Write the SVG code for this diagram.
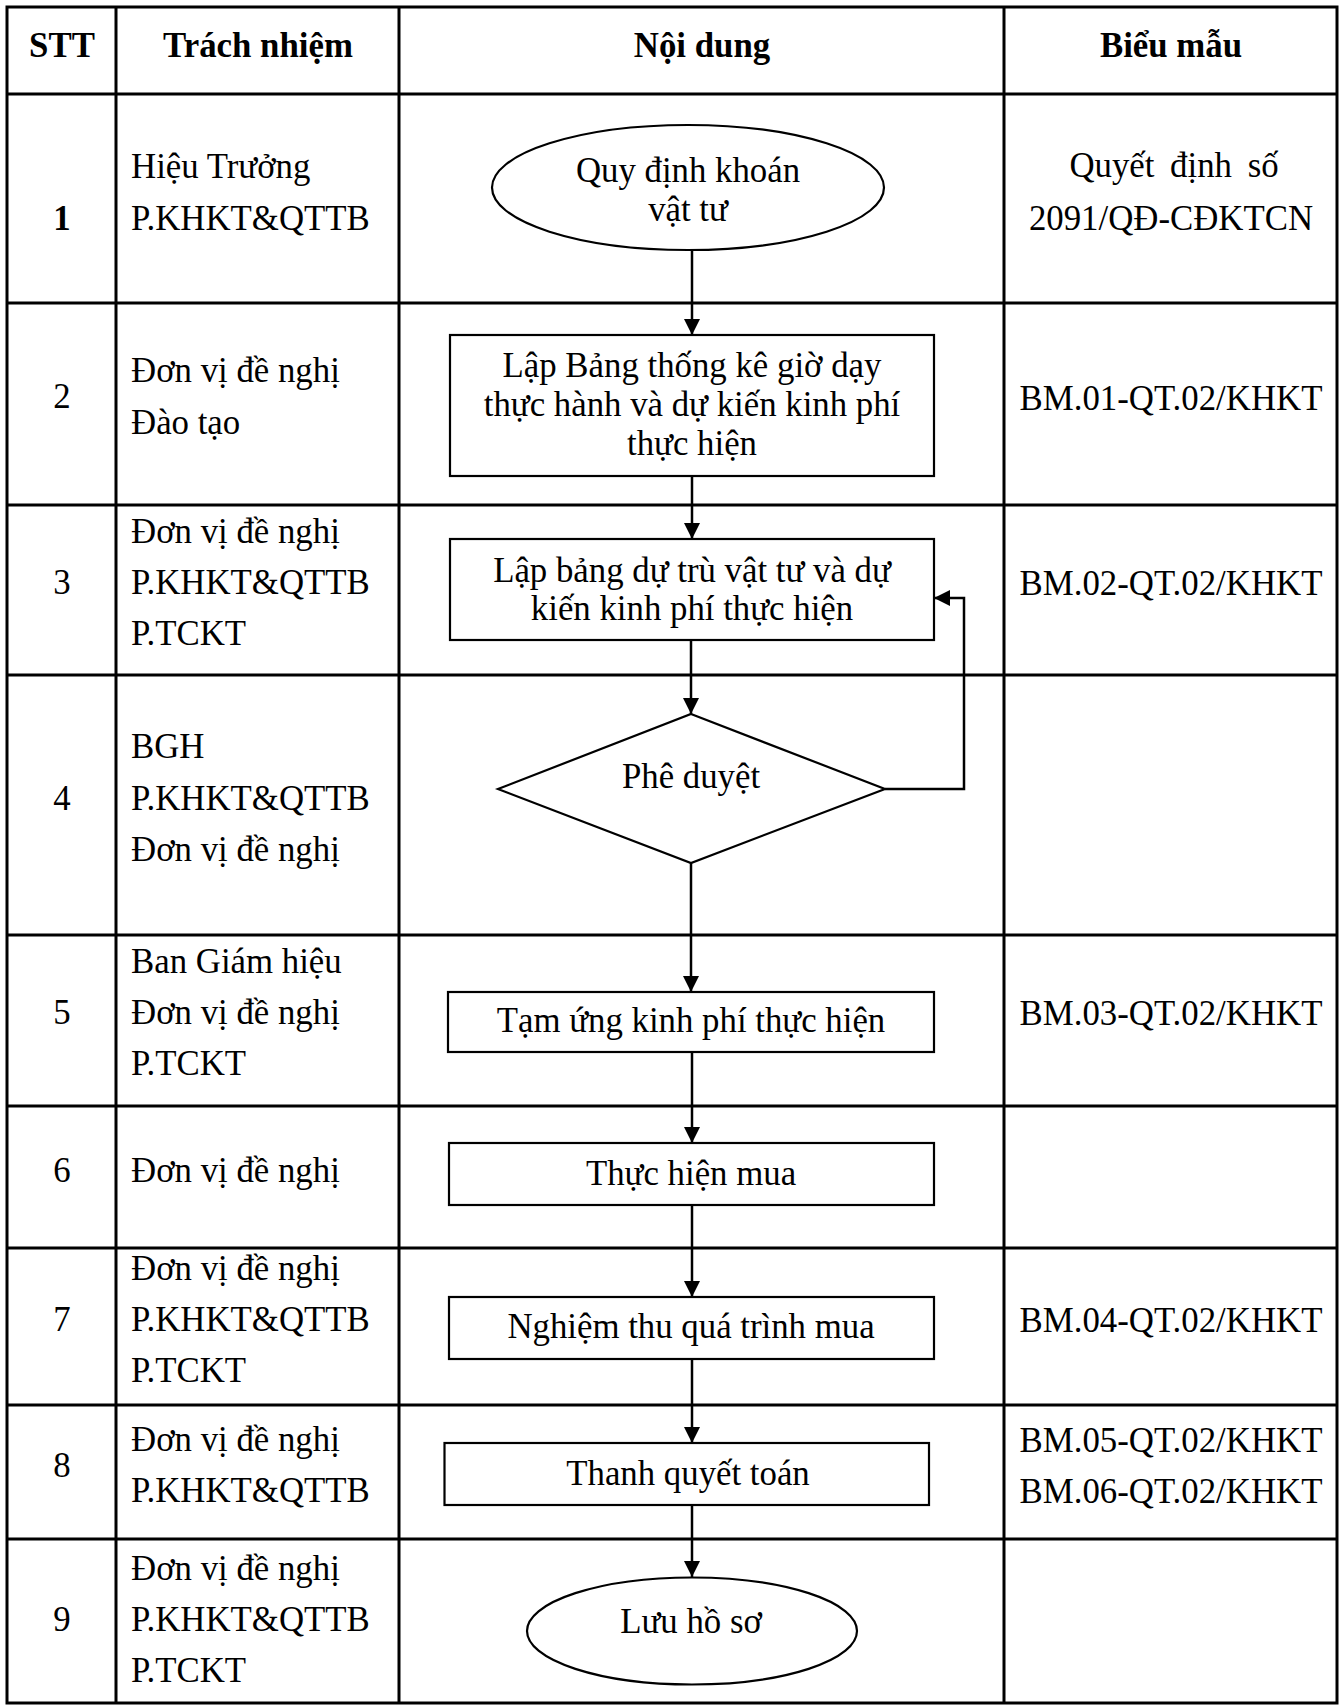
<svg xmlns="http://www.w3.org/2000/svg" width="1342" height="1707" viewBox="0 0 1342 1707">
<style>
text{font-family:"Liberation Serif","Times New Roman",serif;font-size:34.8px;fill:#000}
.b{font-weight:bold}
.c{text-anchor:middle}
.grid{stroke:#000;stroke-width:3;fill:none}
.shape{stroke:#000;stroke-width:2.2;fill:#fff}
.conn{stroke:#000;stroke-width:2.5;fill:none;marker-end:url(#arr)}
</style>
<defs>
<marker id="arr" markerUnits="userSpaceOnUse" markerWidth="17" markerHeight="17" refX="16" refY="8" orient="auto">
<path d="M0,0 L16,8 L0,16 z" fill="#000"/>
</marker>
</defs>
<rect width="1342" height="1707" fill="#fff"/>
<g id="table" class="grid">
<rect x="7" y="7" width="1330" height="1696"/>
<path d="M116,7V1703M399,7V1703M1004,7V1703"/>
<path d="M7,94H1337M7,303H1337M7,505H1337M7,675H1337M7,935H1337M7,1106H1337M7,1248H1337M7,1405H1337M7,1539H1337"/>
</g>
<g id="header">
<text class="b c" x="62" y="57">STT</text>
<text class="b c" x="258" y="57">Trách nhiệm</text>
<text class="b c" x="702" y="57">Nội dung</text>
<text class="b c" x="1171" y="57">Biểu mẫu</text>
</g>
<g id="col-stt">
<text class="b c" x="62" y="230">1</text>
<text class="c" x="62" y="408">2</text>
<text class="c" x="62" y="594">3</text>
<text class="c" x="62" y="810">4</text>
<text class="c" x="62" y="1024">5</text>
<text class="c" x="62" y="1182">6</text>
<text class="c" x="62" y="1331">7</text>
<text class="c" x="62" y="1477">8</text>
<text class="c" x="62" y="1631">9</text>
</g>
<g id="col-resp">
<text x="131" y="178">Hiệu Trưởng</text>
<text x="131" y="230">P.KHKT&amp;QTTB</text>
<text x="131" y="382">Đơn vị đề nghị</text>
<text x="131" y="434">Đào tạo</text>
<text x="131" y="543">Đơn vị đề nghị</text>
<text x="131" y="594">P.KHKT&amp;QTTB</text>
<text x="131" y="645">P.TCKT</text>
<text x="131" y="758">BGH</text>
<text x="131" y="810">P.KHKT&amp;QTTB</text>
<text x="131" y="861">Đơn vị đề nghị</text>
<text x="131" y="973">Ban Giám hiệu</text>
<text x="131" y="1024">Đơn vị đề nghị</text>
<text x="131" y="1075">P.TCKT</text>
<text x="131" y="1182">Đơn vị đề nghị</text>
<text x="131" y="1280">Đơn vị đề nghị</text>
<text x="131" y="1331">P.KHKT&amp;QTTB</text>
<text x="131" y="1382">P.TCKT</text>
<text x="131" y="1451">Đơn vị đề nghị</text>
<text x="131" y="1502">P.KHKT&amp;QTTB</text>
<text x="131" y="1580">Đơn vị đề nghị</text>
<text x="131" y="1631">P.KHKT&amp;QTTB</text>
<text x="131" y="1682">P.TCKT</text>
</g>
<g id="col-form">
<text class="c" x="1174" y="177" word-spacing="7">Quyết định số</text>
<text class="c" x="1171" y="230">2091/QĐ-CĐKTCN</text>
<text class="c" x="1171" y="410">BM.01-QT.02/KHKT</text>
<text class="c" x="1171" y="595">BM.02-QT.02/KHKT</text>
<text class="c" x="1171" y="1025">BM.03-QT.02/KHKT</text>
<text class="c" x="1171" y="1332">BM.04-QT.02/KHKT</text>
<text class="c" x="1171" y="1452">BM.05-QT.02/KHKT</text>
<text class="c" x="1171" y="1503">BM.06-QT.02/KHKT</text>
</g>
<g id="connectors">
<path class="conn" d="M692,250V335"/>
<path class="conn" d="M692,476V539"/>
<path class="conn" d="M691,640V714"/>
<path class="conn" d="M885,789H964V598H934"/>
<path class="conn" d="M691,863V992"/>
<path class="conn" d="M692,1052V1143"/>
<path class="conn" d="M692,1205V1297"/>
<path class="conn" d="M692,1359V1443"/>
<path class="conn" d="M692,1505V1577"/>
</g>
<g id="n1">
<ellipse class="shape" cx="688" cy="187.5" rx="196" ry="62.5"/>
<text class="c" x="688" y="182">Quy định khoán</text>
<text class="c" x="688" y="221">vật tư</text>
</g>
<g id="n2">
<rect class="shape" x="450" y="335" width="484" height="141"/>
<text class="c" x="692" y="377">Lập Bảng thống kê giờ dạy</text>
<text class="c" x="692" y="416">thực hành và dự kiến kinh phí</text>
<text class="c" x="692" y="455">thực hiện</text>
</g>
<g id="n3">
<rect class="shape" x="450" y="539" width="484" height="101"/>
<text class="c" x="692" y="582">Lập bảng dự trù vật tư và dự</text>
<text class="c" x="692" y="620">kiến kinh phí thực hiện</text>
</g>
<g id="n4">
<polygon class="shape" points="691,714 885,789 691,863 498,789"/>
<text class="c" x="691" y="788">Phê duyệt</text>
</g>
<g id="n5">
<rect class="shape" x="448" y="992" width="486" height="60"/>
<text class="c" x="691" y="1032">Tạm ứng kinh phí thực hiện</text>
</g>
<g id="n6">
<rect class="shape" x="449" y="1143" width="485" height="62"/>
<text class="c" x="691" y="1185">Thực hiện mua</text>
</g>
<g id="n7">
<rect class="shape" x="449" y="1297" width="485" height="62"/>
<text class="c" x="691" y="1338">Nghiệm thu quá trình mua</text>
</g>
<g id="n8">
<rect class="shape" x="444.5" y="1443" width="484.5" height="62"/>
<text class="c" x="688" y="1485">Thanh quyết toán</text>
</g>
<g id="n9">
<ellipse class="shape" cx="692" cy="1631" rx="165" ry="53.5"/>
<text class="c" x="691" y="1633">Lưu hồ sơ</text>
</g>
</svg>
